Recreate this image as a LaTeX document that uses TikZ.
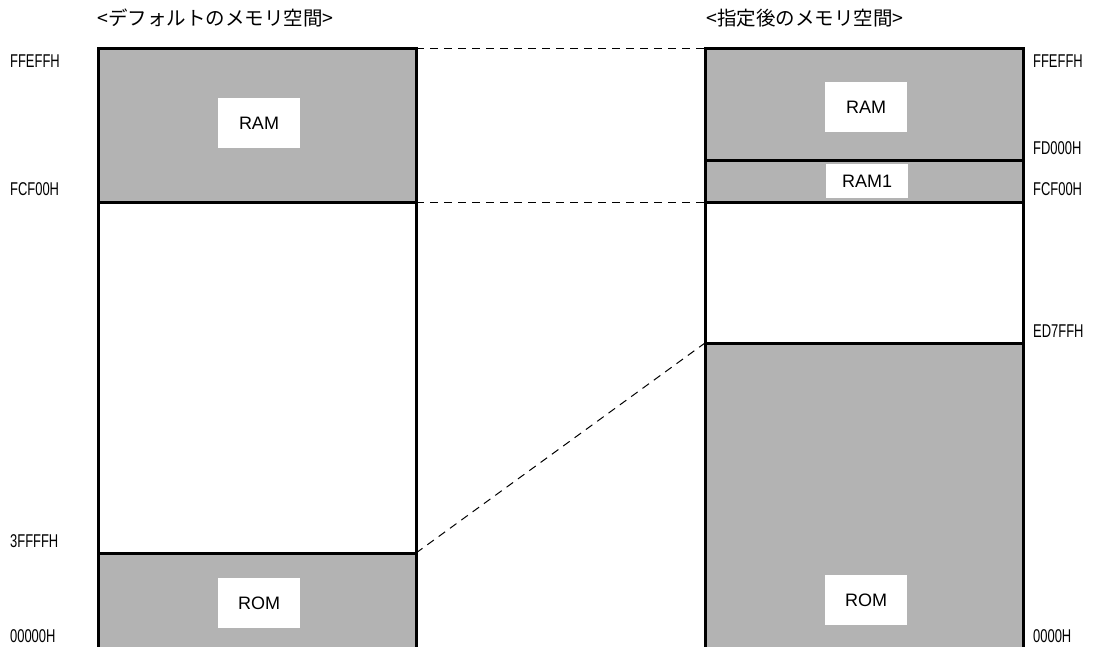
\documentclass[tikz,border=0pt]{standalone}
\usepackage{fontspec}
\setmainfont{Liberation Sans}
\newfontfamily\jpfont{Noto Sans CJK JP}
\definecolor{memgray}{HTML}{B3B3B3}
\begin{document}
\begin{tikzpicture}[x=1pt,y=-1pt,
  seg/.style={draw, line width=3pt, inner sep=0pt, outer sep=0pt, anchor=north west, minimum width=318pt},
  full/.style={seg, fill=memgray},
  empty/.style={seg, fill=white},
  tag/.style={fill=white, inner sep=0pt, minimum width=82pt, font=\fontsize{18}{18}\selectfont},
  addr/.style={anchor=west, inner sep=0pt, xscale=0.7, font=\fontsize{18.5}{18}\selectfont},
  title/.style={anchor=west, inner sep=0pt, font=\jpfont\fontsize{19.5}{20}\selectfont},
  guide/.style={dashed, line width=1pt, dash pattern=on 8pt off 6pt}]
\clip (0,0) rectangle (1106,647);
\fill[white] (0,0) rectangle (1106,647);
% left column
\node[full,  minimum height=154pt] (lram) at (98,49) {};
\node[empty, minimum height=350pt] (lfree) at (98,203) {};
\node[full,  minimum height=120pt] (lrom) at (98,553) {};
% right column
\node[full,  minimum height=112pt] (rram) at (705,49) {};
\node[full,  minimum height=42pt] (rram1) at (705,161) {};
\node[empty, minimum height=140pt] (rfree) at (705,203) {};
\node[full,  minimum height=330pt] (rrom) at (705,343) {};
% labels in boxes
\node[tag, minimum height=50pt] (tlram) at (259,123) {RAM};
\node[tag, minimum height=50pt] (tlrom) at (259,603) {ROM};
\node[tag, minimum height=50pt] (trram) at (866,107) {RAM};
\node[tag, minimum height=34pt] (trram1) at (867,181) {RAM1};
\node[tag, minimum height=50pt] (trrom) at (866,600) {ROM};
% titles
\node[title] (tl) at (97,18) {<デフォルトのメモリ空間>};
\node[title] (tr) at (706,18) {<指定後のメモリ空間>};
% left addresses
\node[addr] (a1) at (10,61) {FFEFFH};
\node[addr] (a2) at (10,189) {FCF00H};
\node[addr] (a3) at (10,541) {3FFFFH};
\node[addr] (a4) at (10,636) {00000H};
% right addresses
\node[addr] (b1) at (1033,61) {FFEFFH};
\node[addr] (b2) at (1033,148) {FD000H};
\node[addr] (b3) at (1033,189) {FCF00H};
\node[addr] (b4) at (1033,331) {ED7FFH};
\node[addr] (b5) at (1033,636) {0000H};
% dashed guides
\draw[guide] (lram.north east) -- (rram.north west);
\draw[guide] (lram.south east) -- (rram1.south west);
\draw[guide] (lrom.north east) -- (rrom.north west);
\end{tikzpicture}
\end{document}
